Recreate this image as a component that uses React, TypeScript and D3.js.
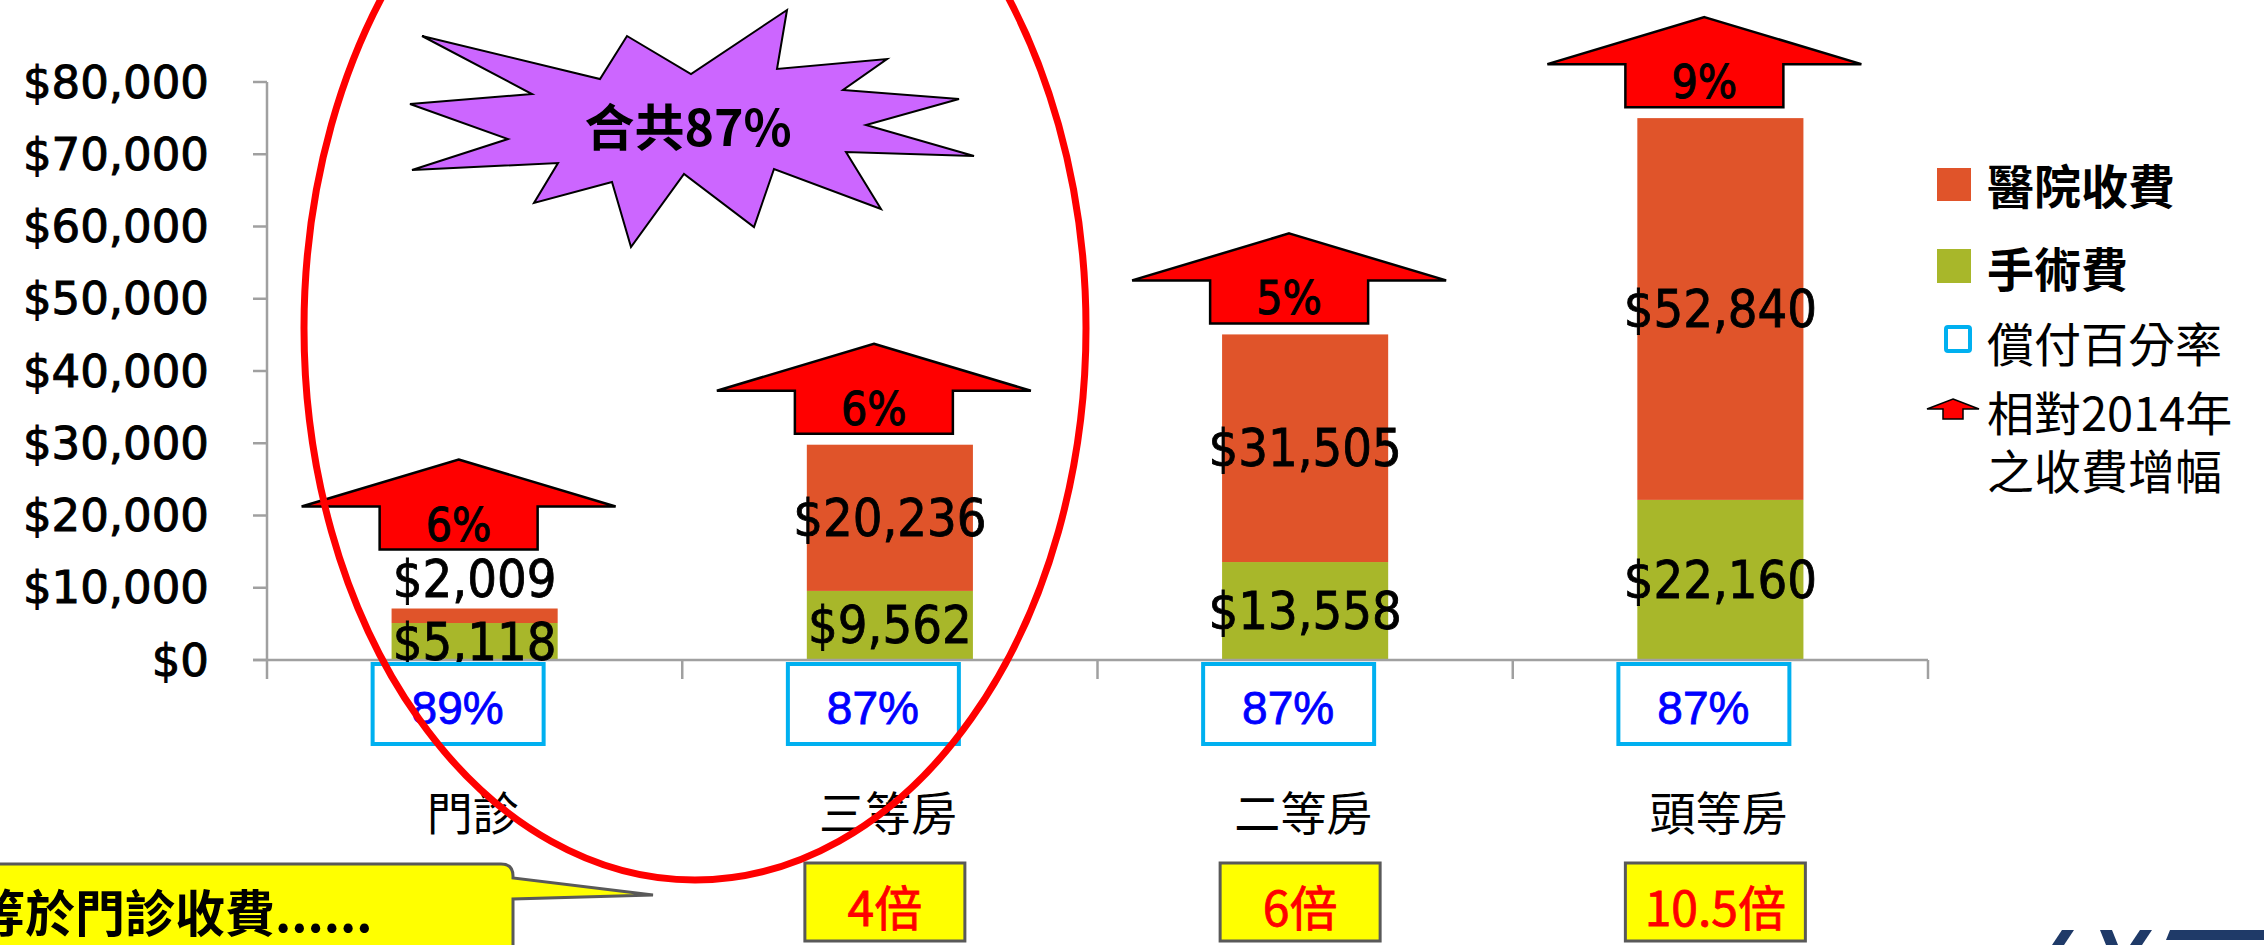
import React from 'react';
import * as d3 from 'd3';

// chart values
const categories = ['門診', '三等房', '二等房', '頭等房'];
const surgeryFee = [5118, 9562, 13558, 22160];
const hospitalFee = [2009, 20236, 31505, 52840];
const reimburseRate = ['89%', '87%', '87%', '87%'];
const increaseVs2014 = ['6%', '6%', '5%', '9%'];
const timesOfOutpatient = ['', '4倍', '6倍', '10.5倍'];
const yTickValues = [0, 10000, 20000, 30000, 40000, 50000, 60000, 70000, 80000];

const legendItems = ['醫院收費', '手術費', '償付百分率', '相對2014年', '之收費增幅'];

const W = 2264;
const H = 945;
const COND = "'DejaVu Sans Condensed', 'DejaVu Sans', sans-serif";
const CJK = "'Noto Sans CJK TC', 'Noto Sans CJK SC', sans-serif";

const ORANGE = '#E0542A';
const GREEN = '#A8B72A';

const arrowPath = (cx: number, bottom: number, half = 157, shaft = 79, head = 47, body = 43) => {
  const p = d3.path();
  p.moveTo(cx, bottom - body - head);
  p.lineTo(cx + half, bottom - body);
  p.lineTo(cx + shaft, bottom - body);
  p.lineTo(cx + shaft, bottom);
  p.lineTo(cx - shaft, bottom);
  p.lineTo(cx - shaft, bottom - body);
  p.lineTo(cx - half, bottom - body);
  p.closePath();
  return p.toString();
};

// starburst outline behind "合共87%"
const starPoints: [number, number][] = [
  [422, 36], [600, 79], [627, 36], [691, 74], [787, 10], [777, 69], [887, 59], [843, 90],
  [959, 99], [866, 125], [974, 156], [846, 152], [881, 209], [774, 169], [754, 227], [684, 174],
  [631, 247], [612, 182], [534, 203], [558, 163], [412, 170], [508, 139], [410, 104], [532, 94],
];

const App = () => {
  const x = d3.scaleBand<string>().domain(categories).range([267, 1928]).paddingInner(0.6).paddingOuter(0.3);
  const y = d3.scaleLinear().domain([0, 80000]).range([660, 82]);
  const fmt = (v: number) => '$' + d3.format(',')(v);
  const step = x.step();

  const stack = d3.stack<number>().keys(['s', 'h']).value((i, k) => (k === 's' ? surgeryFee[i] : hospitalFee[i]));
  const series = stack(categories.map((_, i) => i));

  return (
    <svg width={W} height={H} style={{ position: 'absolute', left: 0, top: 0, display: 'block', background: '#fff' }}>
      {/* bars */}
      {series.map((s, si) => (
        <g key={si} fill={si === 0 ? GREEN : ORANGE}>
          {s.map((d, i) => (
            <rect key={i} x={x(categories[i])} width={x.bandwidth()} y={y(d[1])} height={y(d[0]) - y(d[1])} />
          ))}
        </g>
      ))}

      {/* axes */}
      <g stroke="#A0A0A0" strokeWidth={2.5} fill="none">
        <line x1={267} x2={267} y1={y(80000)} y2={679} />
        <line x1={253} x2={1928} y1={y(0)} y2={y(0)} />
        {yTickValues.map((t) => (
          <line key={t} x1={253} x2={267} y1={y(t)} y2={y(t)} />
        ))}
        {categories.map((c, i) => (
          <line key={c} x1={267 + step * (i + 1)} x2={267 + step * (i + 1)} y1={y(0)} y2={679} />
        ))}
      </g>
      <g fontFamily="'DejaVu Sans', sans-serif" fontSize={45} textAnchor="end" fill="#000" stroke="#000" strokeWidth={1}>
        {yTickValues.map((t) => (
          <text key={t} x={209} y={y(t)} dominantBaseline="central">{fmt(t)}</text>
        ))}
      </g>

      {/* value labels */}
      <g fontFamily={COND} fontSize={52} textAnchor="middle" fill="#000" stroke="#000" strokeWidth={0.8}>
        {categories.map((c, i) => {
          const cx = x(c)! + x.bandwidth() / 2;
          const s0 = y(0), s1 = y(surgeryFee[i]), h1 = y(surgeryFee[i] + hospitalFee[i]);
          const small = s1 - h1 < 40;
          const hy = small ? h1 - 30 : (s1 + h1) / 2;
          return (
            <g key={c}>
              <text x={cx} y={(s0 + s1) / 2} dominantBaseline="central">{fmt(surgeryFee[i])}</text>
              <text x={cx} y={hy} dominantBaseline="central">{fmt(hospitalFee[i])}</text>
            </g>
          );
        })}
      </g>

      {/* increase arrows */}
      {categories.map((c, i) => {
        const cx = x(c)! + x.bandwidth() / 2 - 16;
        const top = y(surgeryFee[i] + hospitalFee[i]);
        const small = y(surgeryFee[i]) - top < 40;
        const bottom = small ? top - 59 : top - 11;
        return (
          <g key={c}>
            <path d={arrowPath(cx, bottom)} fill="#FF0000" stroke="#000" strokeWidth={2.5} strokeLinejoin="miter" />
            <text x={cx} y={bottom - 9} textAnchor="middle" fontFamily={COND} fontSize={46} fill="#000" stroke="#000" strokeWidth={1}>{increaseVs2014[i]}</text>
          </g>
        );
      })}

      {/* reimbursement boxes */}
      {categories.map((c, i) => {
        const cx = x(c)! + x.bandwidth() / 2 - 17;
        return (
          <g key={c}>
            <rect x={cx - 85} y={664} width={171} height={80} fill="#fff" stroke="#00B0F0" strokeWidth={4} />
            <text x={cx} y={708} textAnchor="middle" dominantBaseline="central" fontFamily="'Liberation Sans', sans-serif" fontSize={46} fill="#0000FF" stroke="#0000FF" strokeWidth={0.8}>{reimburseRate[i]}</text>
          </g>
        );
      })}

      {/* category labels */}
      <g fontFamily={CJK} fontSize={46} textAnchor="middle" fill="#000">
        {categories.map((c) => (
          <text key={c} x={x(c)! + x.bandwidth() / 2 - 2} y={810} dominantBaseline="central">{c}</text>
        ))}
      </g>

      {/* multiples */}
      {categories.map((c, i) => {
        if (!timesOfOutpatient[i]) return null;
        const cx = x(c)! + x.bandwidth() / 2 - 5;
        const w = Math.max(timesOfOutpatient[i].length * 34 + 10, 160);
        return (
          <g key={c}>
            <rect x={cx - w / 2} y={863} width={w} height={78} fill="#FFFF00" stroke="#595959" strokeWidth={3} />
            <text x={cx} y={905} textAnchor="middle" dominantBaseline="central" fontFamily={CJK} fontSize={48} fill="#FF0000" stroke="#FF0000" strokeWidth={0.8}>{timesOfOutpatient[i]}</text>
          </g>
        );
      })}

      {/* callout */}
      <path
        d="M -20 864 L 501 864 Q 513 864 513 876 L 513 878 L 653 895 L 513 899 L 513 960 L -20 960 Z"
        fill="#FFFF00" stroke="#595959" strokeWidth={3}
      />
      <text x={-25} y={910} dominantBaseline="central" fontFamily={CJK} fontWeight="bold" fontSize={50} fill="#000">等於門診收費......</text>

      {/* starburst */}
      <polygon points={starPoints.map((p) => p.join(',')).join(' ')} fill="#CC66FF" stroke="#000" strokeWidth={2} />
      <text x={688} y={124} textAnchor="middle" dominantBaseline="central" fontFamily={CJK} fontWeight="bold" fontSize={50} fill="#000">合共87%</text>

      {/* ellipse */}
      <ellipse cx={695} cy={328} rx={391} ry={552} fill="none" stroke="#FF0000" strokeWidth={7} />

      {/* legend */}
      <g fontFamily={CJK} fontSize={47} fill="#000">
        <rect x={1937} y={168} width={34} height={33} fill={ORANGE} />
        <text x={1987} y={183} dominantBaseline="central" fontWeight="bold">{legendItems[0]}</text>
        <rect x={1937} y={249} width={34} height={34} fill={GREEN} />
        <text x={1987} y={266} dominantBaseline="central" fontWeight="bold">{legendItems[1]}</text>
        <rect x={1946} y={327} width={24} height={24} fill="#fff" stroke="#00B0F0" strokeWidth={4} rx={2} />
        <text x={1987} y={341} dominantBaseline="central">{legendItems[2]}</text>
        <path d={arrowPath(1953, 419, 26, 10, 10, 10)} fill="#FF0000" stroke="#000" strokeWidth={1.5} />
        <text x={1987} y={410} dominantBaseline="central">{legendItems[3]}</text>
        <text x={1987} y={468} dominantBaseline="central">{legendItems[4]}</text>
      </g>

      {/* partial logo at bottom right */}
      <g fill="#1F3A68">
        <polygon points="2052,945 2062,930 2074,930 2064,945" />
        <polygon points="2100,930 2112,930 2118,945 2106,945" />
        <polygon points="2140,930 2152,930 2142,945 2130,945" />
        <polygon points="2170,930 2264,930 2264,940 2166,940" />
      </g>
    </svg>
  );
};

export default App;
